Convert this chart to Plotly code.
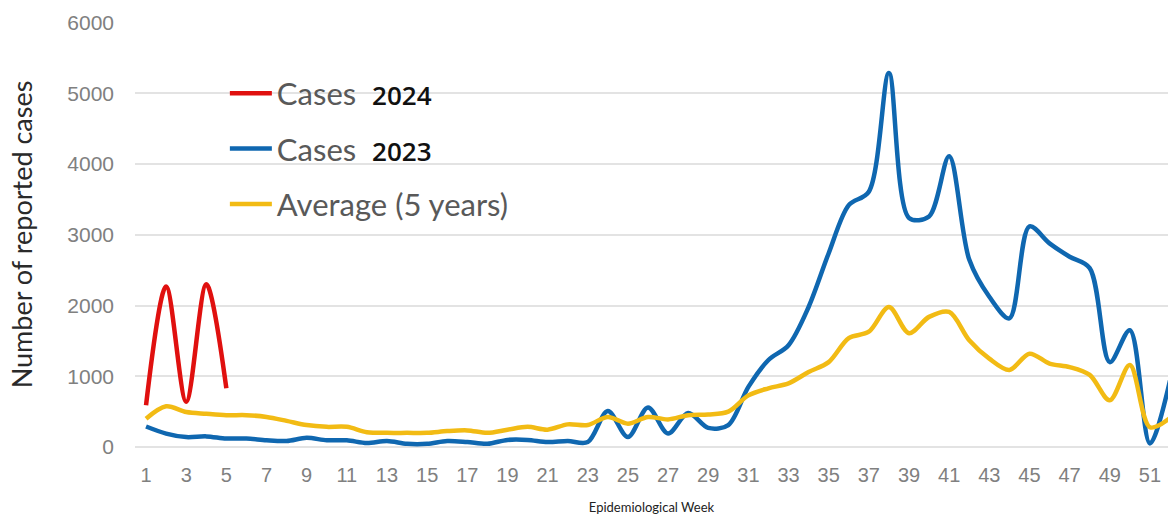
import plotly.graph_objects as go

weeks_2024 = [1, 2, 3, 4, 5]
cases_2024 = [590, 2270, 640, 2300, 830]

weeks = list(range(1, 53))
cases_2023 = [290, 190, 140, 150, 120, 120, 95, 85, 130, 95,
              95, 55, 85, 45, 45, 85, 70, 45, 100, 100,
              70, 85, 70, 510, 140, 560, 190, 480, 270, 310,
              850, 1230, 1440, 1980, 2740, 3420, 3610, 5290, 3240, 3260,
              4110, 2650, 2125, 1820, 3120, 2880, 2690, 2530, 1200, 1650,
              50, 940]
average_5y = [400, 575, 495, 470, 450, 450, 425, 370, 310, 285,
              285, 210, 200, 200, 200, 225, 235, 200, 245, 285,
              245, 320, 310, 425, 330, 425, 390, 450, 460, 500,
              730, 830, 900, 1060, 1200, 1540, 1630, 1980, 1610, 1840,
              1910, 1510, 1250, 1090, 1320, 1180, 1130, 1020, 660, 1160,
              280, 410]

x_ticks = list(range(1, 52, 2))
y_ticks = [0, 1000, 2000, 3000, 4000, 5000, 6000]

yr_style = "color:#111111;font-family:Open Sans;font-weight:600;font-size:26px"
name_2024 = f"Cases&nbsp;&nbsp;<span style='{yr_style}'>2024</span>"
name_2023 = f"Cases&nbsp;&nbsp;<span style='{yr_style}'>2023</span>"
name_avg = "Average (5 years)"

line_kw = dict(width=4.5, shape="spline", smoothing=0.9)

fig = go.Figure()
fig.add_trace(go.Scatter(x=weeks, y=cases_2023, mode="lines", name=name_2023,
                         legendgroup="b", legendrank=2,
                         line=dict(color="#0f67b0", **line_kw)))
fig.add_trace(go.Scatter(x=weeks, y=average_5y, mode="lines", name=name_avg,
                         legendgroup="c", legendrank=3,
                         line=dict(color="#f2bb14", **line_kw)))
fig.add_trace(go.Scatter(x=weeks_2024, y=cases_2024, mode="lines", name=name_2024,
                         legendgroup="a", legendrank=1,
                         line=dict(color="#e0100f", **line_kw)))

fig.update_layout(
    width=1168, height=515,
    margin=dict(l=135, r=0, t=22, b=68),
    paper_bgcolor="white", plot_bgcolor="white",
    showlegend=True,
    legend=dict(x=0.087, y=0.895, xanchor="left", yanchor="top",
                traceorder="grouped", tracegroupgap=12,
                font=dict(family="Lato", size=31, color="#595959"),
                bgcolor="rgba(0,0,0,0)", itemwidth=42),
    xaxis=dict(range=[0.45, 51.9], tickmode="array", tickvals=x_ticks,
               showgrid=False, zeroline=False, showline=False,
               ticks="", ticklabelstandoff=14,
               tickfont=dict(family="Arial", size=20, color="#808080"),
               title=dict(text="Epidemiological Week", standoff=17,
                          font=dict(family="Lato", size=13, color="#222222"))),
    yaxis=dict(range=[0, 6010], tickmode="array", tickvals=y_ticks,
               showgrid=True, gridcolor="#e3e3e3", gridwidth=2,
               zeroline=True, zerolinecolor="#e3e3e3", zerolinewidth=2,
               showline=False, ticks="", ticklabelstandoff=20,
               tickfont=dict(family="Arial", size=21, color="#808080"),
               title=dict(text="Number of reported cases", standoff=26,
                          font=dict(family="Lato", size=27, color="#2a2a2a"))),
)

fig.write_html(
    "out.html",
    config={"displayModeBar": False},
    post_script="document.body.style.margin='0';document.body.style.overflow='hidden';",
)
